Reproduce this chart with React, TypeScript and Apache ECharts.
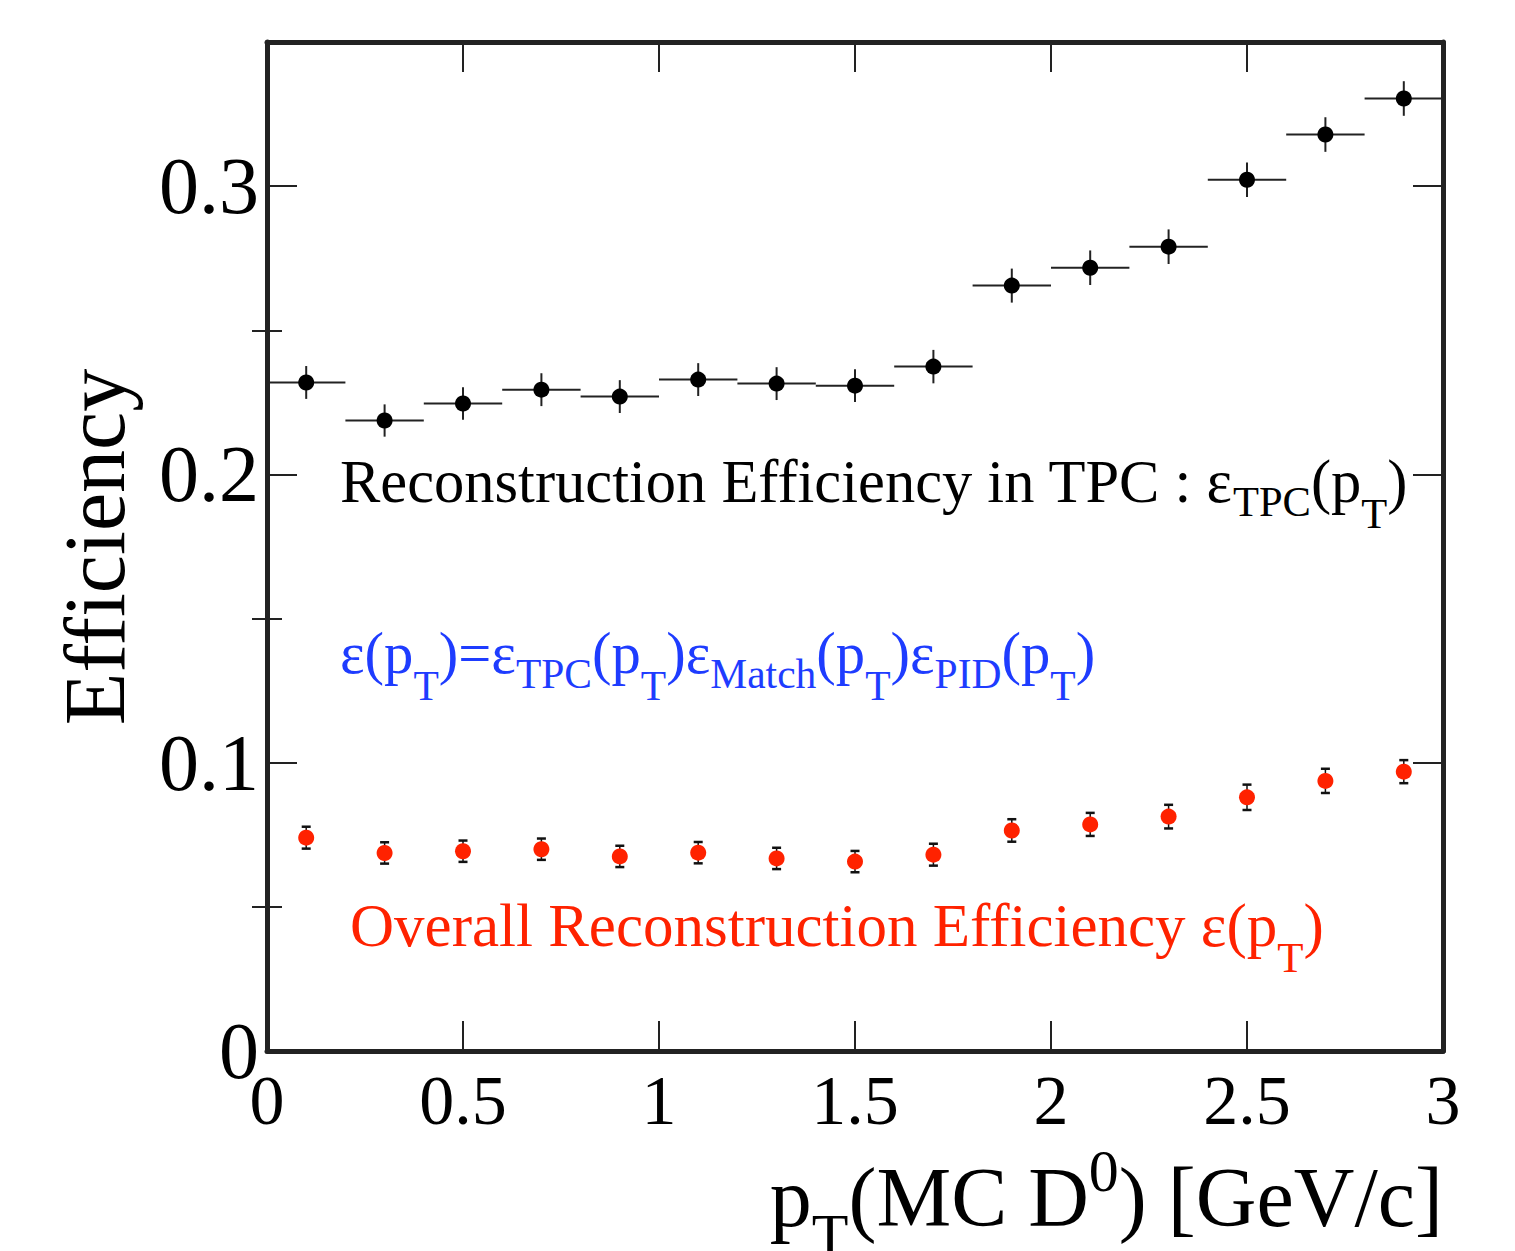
import React, { useEffect, useRef } from "react";
import * as echarts from "echarts";

const PT_CENTERS = [0.1, 0.3, 0.5, 0.7, 0.9, 1.1, 1.3, 1.5, 1.7, 1.9, 2.1, 2.3, 2.5, 2.7, 2.9];
const BIN_WIDTH = 0.2;
const TPC_EFF = [0.2319, 0.2187, 0.2246, 0.2294, 0.227, 0.2329, 0.2315, 0.2308, 0.2374, 0.2655, 0.2717, 0.279, 0.3022, 0.3179, 0.3304];
const TPC_ERR = [0.0057, 0.0056, 0.0056, 0.0057, 0.0057, 0.0057, 0.0057, 0.0057, 0.0058, 0.0059, 0.006, 0.006, 0.006, 0.006, 0.006];
const OVERALL_EFF = [0.074, 0.0687, 0.0693, 0.07, 0.0675, 0.0688, 0.0668, 0.0657, 0.0681, 0.0765, 0.0786, 0.0813, 0.088, 0.0937, 0.0969];
const OVERALL_ERR = [0.0038, 0.0037, 0.0037, 0.0037, 0.0037, 0.0037, 0.0037, 0.0037, 0.0038, 0.0039, 0.004, 0.0041, 0.0044, 0.0042, 0.004];
const X_MIN = 0;
const X_MAX = 3;
const X_STEP = 0.5;
const Y_MIN = 0;
const Y_MAX = 0.35;
const Y_MAJOR_TICKS = [0, 0.1, 0.2, 0.3];
const Y_MINOR_TICKS = [0.05, 0.15, 0.25];

const SERIF = "'Liberation Serif', 'DejaVu Serif', serif";
const FRAME = "#222222";
const RED = "#ff2200";
const BLUE = "#1e3cff";

export default function App() {
  const ref = useRef<HTMLDivElement>(null);
  useEffect(() => {
    if (!ref.current) return;
    const chart = echarts.init(ref.current, undefined, { renderer: "svg" });

    const tpcData = PT_CENTERS.map((x, i) => [x, TPC_EFF[i], TPC_ERR[i]]);
    const overallData = PT_CENTERS.map((x, i) => [x, OVERALL_EFF[i], OVERALL_ERR[i]]);

    const grid = { left: 267, right: 72, top: 42, bottom: 200 };

    const xBase = {
      type: "value",
      min: X_MIN,
      max: X_MAX,
      interval: X_STEP,
      splitLine: { show: false },
      axisLine: { show: true, onZero: false, lineStyle: { color: FRAME, width: 5 } },
      axisTick: { show: true, inside: true, length: 30, lineStyle: { color: FRAME, width: 2 } },
    };
    const yBase = {
      type: "value",
      min: Y_MIN,
      max: Y_MAX,
      splitLine: { show: false },
    };
    const majorTick = { show: true, inside: true, length: 30, customValues: Y_MAJOR_TICKS, lineStyle: { color: FRAME, width: 2 } };
    const minorTick = { show: true, inside: true, length: 15, customValues: Y_MINOR_TICKS, lineStyle: { color: FRAME, width: 2 } };

    const option: any = {
      animation: false,
      backgroundColor: "#ffffff",
      grid,
      xAxis: [
        {
          ...xBase,
          position: "bottom",
          axisLabel: {
            show: true,
            fontFamily: SERIF,
            fontSize: 70,
            color: "#000",
            margin: 14,
            formatter: (v: number) => String(v),
          },
        },
        { ...xBase, position: "top", axisLabel: { show: false } },
      ],
      yAxis: [
        {
          ...yBase,
          position: "left",
          axisLine: { show: true, onZero: false, lineStyle: { color: FRAME, width: 5 } },
          axisTick: majorTick,
          axisLabel: {
            show: true,
            customValues: Y_MAJOR_TICKS,
            fontFamily: SERIF,
            fontSize: 80,
            color: "#000",
            margin: 8,
            formatter: (v: number) => String(Math.round(v * 10) / 10),
          },
        },
        {
          ...yBase,
          position: "left",
          axisLine: { show: false },
          axisTick: minorTick,
          axisLabel: { show: false },
        },
        {
          ...yBase,
          position: "right",
          axisLine: { show: true, onZero: false, lineStyle: { color: FRAME, width: 5 } },
          axisTick: majorTick,
          axisLabel: { show: false },
        },
        {
          ...yBase,
          position: "right",
          axisLine: { show: false },
          axisTick: minorTick,
          axisLabel: { show: false },
        },
      ],
      series: [
        {
          name: "TPC errors",
          type: "custom",
          xAxisIndex: 0,
          yAxisIndex: 0,
          data: tpcData,
          z: 2,
          renderItem: (params: any, api: any) => {
            const x = api.value(0);
            const y = api.value(1);
            const e = api.value(2);
            const l = api.coord([x - BIN_WIDTH / 2, y]);
            const r = api.coord([x + BIN_WIDTH / 2, y]);
            const t = api.coord([x, y + e]);
            const b = api.coord([x, y - e]);
            const st = { stroke: FRAME, lineWidth: 2 };
            return {
              type: "group",
              children: [
                { type: "line", shape: { x1: l[0], y1: l[1], x2: r[0], y2: r[1] }, style: st },
                { type: "line", shape: { x1: t[0], y1: t[1], x2: b[0], y2: b[1] }, style: st },
              ],
            };
          },
        },
        {
          name: "Overall errors",
          type: "custom",
          xAxisIndex: 0,
          yAxisIndex: 0,
          data: overallData,
          z: 2,
          renderItem: (params: any, api: any) => {
            const x = api.value(0);
            const y = api.value(1);
            const e = api.value(2);
            const t = api.coord([x, y + e]);
            const b = api.coord([x, y - e]);
            const st = { stroke: "#111", lineWidth: 2.5 };
            const cap = 4.5;
            return {
              type: "group",
              children: [
                { type: "line", shape: { x1: t[0], y1: t[1], x2: b[0], y2: b[1] }, style: { stroke: "#111", lineWidth: 1.5 } },
                { type: "line", shape: { x1: t[0] - cap, y1: t[1], x2: t[0] + cap, y2: t[1] }, style: st },
                { type: "line", shape: { x1: b[0] - cap, y1: b[1], x2: b[0] + cap, y2: b[1] }, style: st },
              ],
            };
          },
        },
        {
          name: "TPC efficiency",
          type: "scatter",
          xAxisIndex: 0,
          yAxisIndex: 0,
          data: tpcData.map((d) => [d[0], d[1]]),
          symbol: "circle",
          symbolSize: 16,
          itemStyle: { color: "#000", opacity: 1 },
          z: 5,
        },
        {
          name: "Overall efficiency",
          type: "scatter",
          xAxisIndex: 0,
          yAxisIndex: 0,
          data: overallData.map((d) => [d[0], d[1]]),
          symbol: "circle",
          symbolSize: 16,
          itemStyle: { color: RED, opacity: 1 },
          z: 5,
        },
      ],
      graphic: [
        {
          type: "text",
          x: 95,
          y: 547,
          rotation: Math.PI / 2,
          style: {
            text: "Efficiency",
            fontFamily: SERIF,
            fontSize: 86,
            fill: "#000",
            align: "center",
            verticalAlign: "middle",
            textAlign: "center",
            textVerticalAlign: "middle",
          },
        },
        {
          type: "text",
          x: 1443,
          y: 1132,
          style: {
            text: "{m|p}{s|T}{m|(MC D}{u|0}{m|) [GeV/c]}",
            align: "right",
            verticalAlign: "top",
            textAlign: "right",
            textVerticalAlign: "top",
            fill: "#000",
            fontFamily: SERIF,
            fontSize: 84,
            rich: {
              m: { fontFamily: SERIF, fontSize: 84, height: 130, fill: "#000" },
              s: { fontFamily: SERIF, fontSize: 60, height: 54, verticalAlign: "bottom", fill: "#000" },
              u: { fontFamily: SERIF, fontSize: 60, height: 78, verticalAlign: "top", fill: "#000" },
            },
          },
        },
        {
          type: "text",
          x: 340,
          y: 431,
          style: {
            text: "{m|Reconstruction Efficiency in TPC : ε}{a|TPC}{m|(p}{b|T}{m|)}",
            align: "left",
            verticalAlign: "top",
            fill: "#000",
            fontFamily: SERIF,
            fontSize: 60.5,
            rich: {
              m: { fontFamily: SERIF, fontSize: 60.5, height: 100, fill: "#000" },
              a: { fontFamily: SERIF, fontSize: 42.5, height: 59, verticalAlign: "bottom", fill: "#000" },
              b: { fontFamily: SERIF, fontSize: 42.5, height: 35, verticalAlign: "bottom", fill: "#000" },
            },
          },
        },
        {
          type: "text",
          x: 340,
          y: 603,
          style: {
            text: "{m|ε(p}{b|T}{m|)=ε}{a|TPC}{m|(p}{b|T}{m|)ε}{a|Match}{m|(p}{b|T}{m|)ε}{a|PID}{m|(p}{b|T}{m|)}",
            align: "left",
            verticalAlign: "top",
            fill: BLUE,
            fontFamily: SERIF,
            fontSize: 58.6,
            rich: {
              m: { fontFamily: SERIF, fontSize: 58.6, height: 100, fill: BLUE },
              a: { fontFamily: SERIF, fontSize: 41.5, height: 59, verticalAlign: "bottom", fill: BLUE },
              b: { fontFamily: SERIF, fontSize: 41.5, height: 35, verticalAlign: "bottom", fill: BLUE },
            },
          },
        },
        {
          type: "text",
          x: 350,
          y: 875,
          style: {
            text: "{m|Overall Reconstruction Efficiency ε(p}{b|T}{m|)}",
            align: "left",
            verticalAlign: "top",
            fill: RED,
            fontFamily: SERIF,
            fontSize: 61,
            rich: {
              m: { fontFamily: SERIF, fontSize: 61, height: 100, fill: RED },
              b: { fontFamily: SERIF, fontSize: 43, height: 35, verticalAlign: "bottom", fill: RED },
            },
          },
        },
      ],
    };

    chart.setOption(option);
    return () => chart.dispose();
  }, []);

  return (
    <div
      ref={ref}
      style={{ position: "absolute", left: 0, top: 0, width: 1515, height: 1251, background: "#fff" }}
    />
  );
}
